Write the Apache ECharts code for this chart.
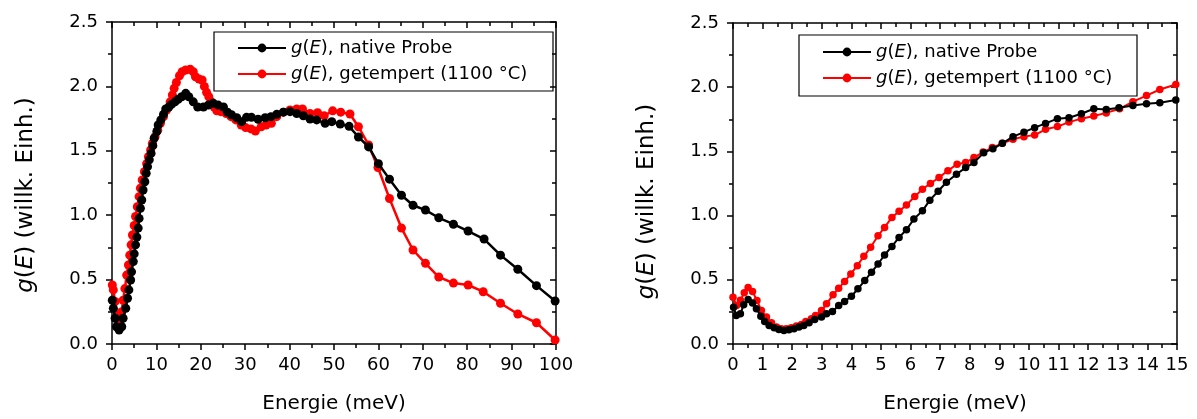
<!DOCTYPE html>
<html>
<head>
<meta charset="utf-8">
<script src="https://cdn.jsdelivr.net/npm/echarts/dist/echarts.min.js"></script>
<style>
html,body{margin:0;padding:0;background:#fff;}
#c{width:1197px;height:419px;}
</style>
</head>
<body>
<div id="c"></div>
<script>
// ---- Data ----
const leftNativeE = [0.07,0.3,0.7,1.0,1.6,2.2,2.5,3.1,3.5,3.8,4.2,4.4,4.8,5.0,5.3,5.6,5.9,6.1,6.4,6.7,7.0,7.4,7.7,8.0,8.4,8.8,9.2,9.5,10.1,10.4,11.0,11.6,12.1,12.8,13.4,14.2,14.9,15.7,16.6,17.3,18.3,19.3,20.6,21.7,22.8,23.9,25.1,26.0,26.9,28.1,29.2,30.3,31.4,32.9,34.5,35.8,37.1,38.6,40.1,41.6,43.1,44.6,46.1,48.0,49.5,51.4,53.4,55.5,57.8,60.0,62.5,65.2,67.8,70.6,73.6,76.9,80.2,83.8,87.5,91.4,95.6,99.8];
const leftNativeG = [0.34,0.277,0.2,0.134,0.109,0.134,0.2,0.277,0.355,0.42,0.497,0.56,0.64,0.70,0.77,0.83,0.90,0.975,1.053,1.118,1.196,1.26,1.325,1.377,1.43,1.48,1.54,1.597,1.65,1.70,1.74,1.783,1.825,1.84,1.86,1.88,1.90,1.92,1.946,1.92,1.88,1.84,1.84,1.855,1.87,1.855,1.84,1.80,1.78,1.757,1.726,1.76,1.76,1.745,1.757,1.765,1.783,1.80,1.804,1.79,1.772,1.747,1.74,1.713,1.726,1.708,1.69,1.607,1.53,1.40,1.28,1.155,1.077,1.04,0.98,0.93,0.877,0.815,0.69,0.58,0.453,0.334];
const leftAnnealE = [0.07,0.3,0.7,1.2,1.6,2.2,2.5,2.9,3.3,3.7,4.0,4.3,4.6,5.0,5.3,5.7,6.1,6.4,6.8,7.3,7.8,8.2,8.7,9.1,9.7,10.3,10.9,11.6,12.3,13.1,13.6,14.0,14.5,15.2,15.8,16.6,17.6,18.3,18.8,19.6,20.3,20.8,21.3,21.8,22.4,23.0,23.6,24.5,25.7,26.8,27.9,29.1,30.1,31.3,32.3,33.6,34.7,35.9,37.1,38.6,40.1,41.6,42.9,44.6,46.3,47.8,49.7,51.5,53.6,55.5,57.8,59.9,62.5,65.2,67.8,70.6,73.6,76.9,80.2,83.6,87.5,91.4,95.6,99.8];
const leftAnnealG = [0.458,0.42,0.33,0.225,0.17,0.25,0.34,0.43,0.535,0.613,0.69,0.77,0.846,0.92,0.99,1.066,1.144,1.21,1.273,1.338,1.40,1.454,1.506,1.558,1.61,1.66,1.713,1.765,1.817,1.88,1.933,1.985,2.03,2.083,2.114,2.127,2.133,2.114,2.075,2.057,2.05,2.0,1.954,1.92,1.88,1.84,1.81,1.804,1.79,1.765,1.74,1.70,1.68,1.67,1.654,1.687,1.70,1.713,1.765,1.80,1.817,1.825,1.825,1.79,1.796,1.772,1.81,1.80,1.786,1.687,1.545,1.37,1.13,0.90,0.73,0.626,0.52,0.473,0.458,0.406,0.316,0.233,0.165,0.031];

const rightNativeE = [0.02,0.11,0.25,0.36,0.51,0.66,0.79,0.94,1.07,1.22,1.39,1.55,1.72,1.89,2.06,2.23,2.39,2.57,2.76,2.99,3.16,3.36,3.57,3.77,4.0,4.22,4.45,4.68,4.9,5.12,5.37,5.61,5.86,6.11,6.4,6.65,6.93,7.21,7.55,7.86,8.14,8.47,8.78,9.1,9.46,9.83,10.19,10.56,10.96,11.35,11.77,12.19,12.61,13.04,13.51,13.97,14.42,14.96];
const rightNativeG = [0.287,0.222,0.235,0.305,0.346,0.32,0.274,0.217,0.175,0.144,0.127,0.113,0.106,0.111,0.119,0.132,0.144,0.165,0.191,0.21,0.235,0.253,0.30,0.331,0.372,0.43,0.494,0.559,0.623,0.693,0.76,0.83,0.89,0.973,1.037,1.12,1.19,1.26,1.322,1.374,1.413,1.49,1.52,1.563,1.615,1.65,1.685,1.718,1.755,1.762,1.793,1.832,1.827,1.84,1.858,1.871,1.879,1.90];
const rightAnnealE = [0.0,0.12,0.25,0.38,0.51,0.66,0.81,0.96,1.13,1.3,1.47,1.63,1.8,1.97,2.14,2.31,2.46,2.65,2.79,2.99,3.16,3.38,3.57,3.77,3.98,4.2,4.42,4.65,4.9,5.12,5.37,5.61,5.86,6.14,6.4,6.67,6.96,7.26,7.57,7.86,8.14,8.45,8.76,9.1,9.46,9.83,10.19,10.56,10.96,11.35,11.77,12.19,12.61,13.06,13.51,13.97,14.42,14.96];
const rightAnnealG = [0.365,0.30,0.34,0.40,0.44,0.408,0.339,0.26,0.21,0.165,0.132,0.119,0.119,0.127,0.14,0.152,0.175,0.196,0.222,0.26,0.313,0.383,0.435,0.486,0.546,0.61,0.683,0.753,0.843,0.908,0.986,1.033,1.082,1.149,1.206,1.25,1.297,1.35,1.40,1.413,1.452,1.495,1.53,1.563,1.594,1.615,1.627,1.672,1.693,1.728,1.755,1.775,1.80,1.832,1.887,1.935,1.982,2.021];

const leftXTicks = {min:0, max:100, interval:10};
const rightXTicks = {min:0, max:15, interval:1};
const yTicks = {min:0, max:2.5, interval:0.5};

const seriesNames = ['g(E), native Probe', 'g(E), getempert (1100 °C)'];
const legendLabels = ['{it|g}({it|E}), native Probe', '{it|g}({it|E}), getempert (1100 °C)'];
const xTitle = 'Energie (meV)';
const yTitle = '{it|g}({it|E}) (willk. Einh.)';

// ---- Chart ----
const FONT = '"DejaVu Sans", sans-serif';
const BLACK = '#000000';
const RED = '#ff0000';
const zip = (a, b) => a.map((v, i) => [v, b[i]]);

function xAxes(gi, t) {
  const base = {
    type:'value', gridIndex:gi, min:t.min, max:t.max, interval:t.interval,
    splitLine:{show:false},
    axisLine:{show:true, onZero:false, lineStyle:{color:BLACK, width:1.5}},
    axisTick:{show:true, length:6, lineStyle:{color:BLACK, width:1.5}},
    minorTick:{show:true, splitNumber:2, length:4, lineStyle:{color:BLACK, width:1.5}}
  };
  return [
    Object.assign({}, base, {
      position:'bottom',
      axisTick:Object.assign({}, base.axisTick, {inside:false}),
      axisLabel:{show:true, color:BLACK, fontSize:18, fontFamily:FONT, margin:12},
      name:xTitle, nameLocation:'middle', nameGap:50,
      nameTextStyle:{color:BLACK, fontSize:20, fontFamily:FONT}
    }),
    Object.assign({}, base, {
      position:'top',
      axisTick:Object.assign({}, base.axisTick, {inside:true}),
      axisLabel:{show:false}
    })
  ];
}
function yAxes(gi, shift) {
  const base = {
    type:'value', gridIndex:gi, min:yTicks.min, max:yTicks.max, interval:yTicks.interval,
    splitLine:{show:false},
    axisLine:{show:true, onZero:false, lineStyle:{color:BLACK, width:1.5}},
    axisTick:{show:true, length:6, lineStyle:{color:BLACK, width:1.5}},
    minorTick:{show:true, splitNumber:2, length:4, lineStyle:{color:BLACK, width:1.5}}
  };
  return [
    Object.assign({}, base, {
      position:'left',
      axisTick:Object.assign({}, base.axisTick, {inside:false}),
      axisLabel:{show:true, color:BLACK, fontSize:18, fontFamily:FONT, margin:14,
                 formatter:v => v.toFixed(1)},
      name:yTitle, nameLocation:'middle', nameGap:74,
      nameTextStyle:{color:BLACK, fontSize:23, fontFamily:FONT, padding:[0, shift, 0, 0],
        rich:{it:{fontStyle:'italic', fontSize:23, fontFamily:FONT, color:BLACK}}}
    }),
    Object.assign({}, base, {
      position:'right',
      axisTick:Object.assign({}, base.axisTick, {inside:true}),
      axisLabel:{show:false}
    })
  ];
}

function lineSeries(name, color, xi, yi, data, sym, lw) {
  return {
    name, type:'line', xAxisIndex:xi, yAxisIndex:yi, data,
    symbol:'circle', symbolSize:sym, showSymbol:true,
    lineStyle:{color, width:lw}, itemStyle:{color, borderWidth:0},
    emphasis:{disabled:true}, animation:false, clip:false, z:color===BLACK?3:2
  };
}

function legendAt(left, top) {
  return {
    orient:'vertical', left, top, padding:0, itemGap:6,
    itemWidth:48, itemHeight:11,
    data:seriesNames,
    formatter:name => legendLabels[seriesNames.indexOf(name)],
    textStyle:{color:BLACK, fontSize:18, fontFamily:FONT, lineHeight:20,
      rich:{it:{fontStyle:'italic', fontSize:18, fontFamily:FONT, color:BLACK, lineHeight:20}}},
    selectedMode:false
  };
}

const chart = echarts.init(document.getElementById('c'), null, {renderer:'canvas'});
chart.setOption({
  backgroundColor:'#ffffff',
  animation:false,
  grid:[
    {left:112, top:22, width:444, height:322, containLabel:false},
    {left:733, top:23, width:444, height:322, containLabel:false}
  ],
  xAxis:[...xAxes(0, leftXTicks), ...xAxes(1, rightXTicks)],
  yAxis:[...yAxes(0, 24), ...yAxes(1, 36)],
  legend:[legendAt(237, 38), legendAt(822, 42)],
  graphic:[
    {type:'rect', shape:{x:214, y:32, width:339, height:59}, style:{fill:'none', stroke:BLACK, lineWidth:1.2}, z:0},
    {type:'rect', shape:{x:799, y:35, width:338, height:61}, style:{fill:'none', stroke:BLACK, lineWidth:1.2}, z:0}
  ],
  series:[
    lineSeries(seriesNames[1], RED, 0, 0, zip(leftAnnealE, leftAnnealG), 9, 2.5),
    lineSeries(seriesNames[0], BLACK, 0, 0, zip(leftNativeE, leftNativeG), 9, 2.5),
    lineSeries(seriesNames[1], RED, 2, 2, zip(rightAnnealE, rightAnnealG), 7.5, 2),
    lineSeries(seriesNames[0], BLACK, 2, 2, zip(rightNativeE, rightNativeG), 7.5, 2)
  ]
});
</script>
</body>
</html>
